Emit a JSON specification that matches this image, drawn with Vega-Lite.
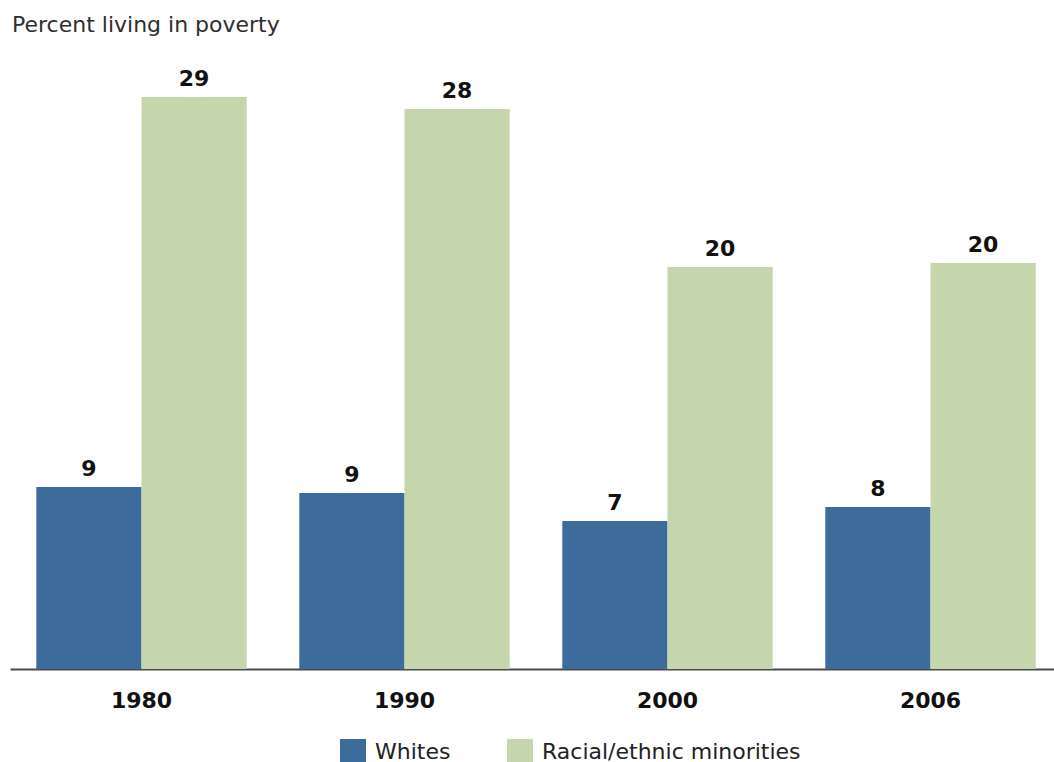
{
  "$schema": "https://vega.github.io/schema/vega-lite/v6.json",
  "autosize": "none",
  "width": 1052,
  "height": 600,
  "padding": {"left": 10, "top": 69, "right": 0, "bottom": 93},
  "background": "white",
  "title": {
    "text": "Percent living in poverty",
    "anchor": "start",
    "frame": "group",
    "font": "DejaVu Sans",
    "fontSize": 22,
    "fontWeight": "normal",
    "color": "#2e2e2e",
    "offset": 31,
    "dx": 2
  },
  "config": {
    "view": {"stroke": null},
    "font": "DejaVu Sans"
  },
  "data": {
    "values": [
      {"year": "1980", "group": "Whites", "pct": 9.1},
      {"year": "1980", "group": "Racial/ethnic minorities", "pct": 28.6},
      {"year": "1990", "group": "Whites", "pct": 8.8},
      {"year": "1990", "group": "Racial/ethnic minorities", "pct": 28.0},
      {"year": "2000", "group": "Whites", "pct": 7.4},
      {"year": "2000", "group": "Racial/ethnic minorities", "pct": 20.1},
      {"year": "2006", "group": "Whites", "pct": 8.1},
      {"year": "2006", "group": "Racial/ethnic minorities", "pct": 20.3}
    ]
  },
  "encoding": {
    "x": {
      "field": "year",
      "type": "nominal",
      "scale": {"paddingInner": 0.2, "paddingOuter": 0.1},
      "axis": {
        "title": null,
        "labelAngle": 0,
        "ticks": false,
        "labelPadding": 21,
        "labelFont": "DejaVu Sans",
        "labelFontSize": 22,
        "labelFontWeight": "bold",
        "labelColor": "#111111",
        "domainColor": "#4a4a4a",
        "domainWidth": 2,
        "grid": false
      }
    },
    "xOffset": {
      "field": "group",
      "type": "nominal",
      "scale": {"domain": ["Whites", "Racial/ethnic minorities"], "paddingInner": 0, "paddingOuter": 0}
    },
    "y": {
      "field": "pct",
      "type": "quantitative",
      "scale": {"domain": [0, 30], "nice": false},
      "axis": null
    }
  },
  "layer": [
    {
      "mark": {"type": "bar"},
      "encoding": {
        "color": {
          "field": "group",
          "type": "nominal",
          "scale": {"domain": ["Whites", "Racial/ethnic minorities"], "range": ["#3d6b9b", "#c5d5ac"]},
          "legend": {
            "title": null,
            "orient": "none",
            "direction": "horizontal",
            "legendX": 330,
            "legendY": 670,
            "padding": 0,
            "symbolType": "square",
            "symbolSize": 676,
            "symbolStrokeWidth": 0,
            "labelFont": "DejaVu Sans",
            "labelFontSize": 22,
            "labelColor": "#222222",
            "labelOffset": 9,
            "labelLimit": 400,
            "columnPadding": 56
          }
        }
      }
    },
    {
      "mark": {"type": "text", "baseline": "alphabetic", "dy": -11, "fontSize": 22, "fontWeight": "bold", "font": "DejaVu Sans", "color": "#111111"},
      "encoding": {
        "text": {"field": "pct", "type": "quantitative", "format": ".0f"}
      }
    }
  ]
}
